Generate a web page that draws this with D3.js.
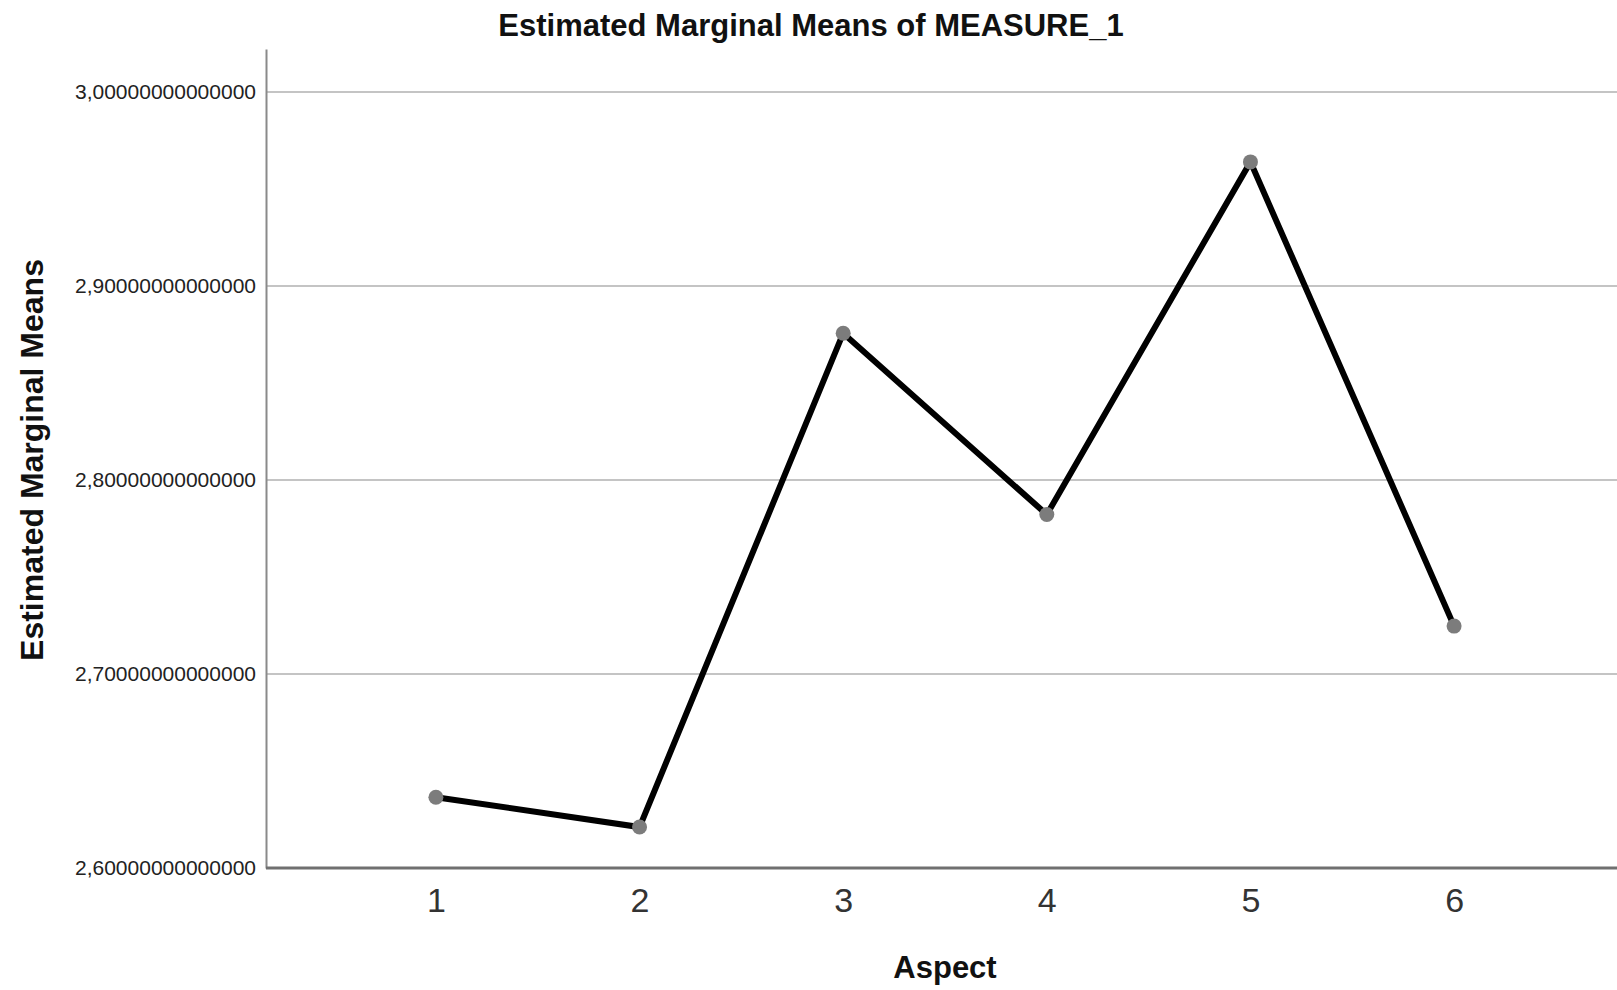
<!DOCTYPE html>
<html>
<head>
<meta charset="utf-8">
<script src="https://cdn.jsdelivr.net/npm/d3@7"></script>
<style>
  body { margin: 0; background: #fff; }
  text { font-family: "Liberation Sans", Arial, sans-serif; }
</style>
</head>
<body>
<svg id="drawing_region"></svg>
<script>
// Estimated marginal means per aspect
const aspects = ["1", "2", "3", "4", "5", "6"];
const means = [2.6365, 2.6211, 2.8757, 2.7822, 2.9640, 2.7247];
const yTicks = [2.6, 2.7, 2.8, 2.9, 3.0];

const config = {
    width: 1617,
    height: 990,
    margin: {top: 49, right: 0, bottom: 122, left: 266}
};

const svg = d3.select('#drawing_region')
    .attr('width', config.width)
    .attr('height', config.height);

const inner_width = config.width - config.margin.left - config.margin.right;
const inner_height = config.height - config.margin.top - config.margin.bottom;

const chart = svg.append('g')
    .attr('transform', `translate(${config.margin.left}, ${config.margin.top})`);

const xscale = d3.scalePoint()
    .domain(aspects)
    .range([7, inner_width])
    .padding(0.8);

const yscale = d3.scaleLinear()
    .domain([2.6, 3.0222])
    .range([inner_height, 0]);

// gridlines
chart.append('g')
    .selectAll('line')
    .data(yTicks.slice(1))
    .join('line')
    .attr('x1', 0)
    .attr('x2', inner_width)
    .attr('y1', d => yscale(d))
    .attr('y2', d => yscale(d))
    .attr('stroke', '#c4c4c4')
    .attr('stroke-width', 2);

// y axis
const yaxis = d3.axisLeft(yscale)
    .tickValues(yTicks)
    .tickSize(0)
    .tickPadding(10)
    .tickFormat(d => d3.format('.14f')(d).replace('.', ','));

const yaxis_group = chart.append('g').call(yaxis);
yaxis_group.select('.domain').attr('stroke', '#8a8a8a').attr('stroke-width', 2);
yaxis_group.selectAll('text')
    .attr('font-size', '21px')
    .attr('fill', '#222')
    .attr('font-family', '"Liberation Sans", Arial, sans-serif');

// x axis
const xaxis = d3.axisBottom(xscale)
    .tickSize(0)
    .tickPadding(20);

const xaxis_group = chart.append('g')
    .attr('transform', `translate(0, ${inner_height})`)
    .call(xaxis);
xaxis_group.select('.domain')
    .attr('d', `M0,0H${inner_width}`)
    .attr('stroke', '#707070')
    .attr('stroke-width', 3);
xaxis_group.selectAll('text')
    .attr('font-size', '34px')
    .attr('fill', '#333')
    .attr('font-family', '"Liberation Sans", Arial, sans-serif');

// line
const line = d3.line()
    .x((d, i) => xscale(aspects[i]))
    .y(d => yscale(d));

chart.append('path')
    .datum(means)
    .attr('d', line)
    .attr('fill', 'none')
    .attr('stroke', '#000')
    .attr('stroke-width', 6)
    .attr('stroke-linejoin', 'miter');

chart.selectAll('circle')
    .data(means)
    .join('circle')
    .attr('cx', (d, i) => xscale(aspects[i]))
    .attr('cy', d => yscale(d))
    .attr('r', 7.5)
    .attr('fill', '#7c7c7c');

// titles
svg.append('text')
    .attr('x', 811)
    .attr('y', 36)
    .attr('text-anchor', 'middle')
    .attr('font-size', '31px')
    .attr('font-weight', 'bold')
    .attr('fill', '#111')
    .text('Estimated Marginal Means of MEASURE_1');

svg.append('text')
    .attr('x', 945)
    .attr('y', 978)
    .attr('text-anchor', 'middle')
    .attr('font-size', '31px')
    .attr('font-weight', 'bold')
    .attr('fill', '#111')
    .text('Aspect');

svg.append('text')
    .attr('transform', 'translate(43, 460) rotate(-90)')
    .attr('text-anchor', 'middle')
    .attr('font-size', '32px')
    .attr('font-weight', 'bold')
    .attr('fill', '#111')
    .text('Estimated Marginal Means');
</script>
</body>
</html>
